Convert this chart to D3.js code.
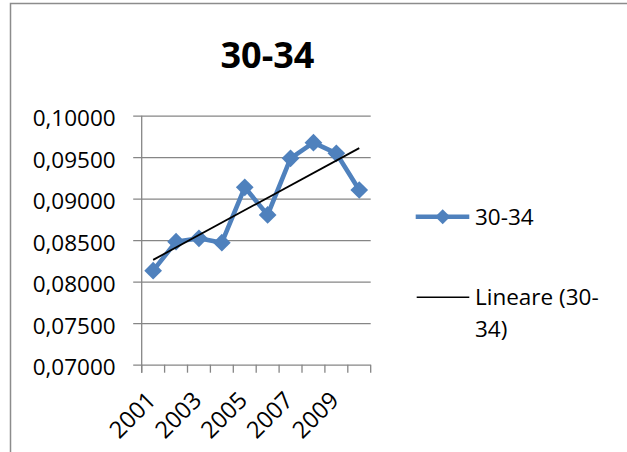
<!DOCTYPE html>
<html>
<head>
<meta charset="utf-8">
<script src="https://cdn.jsdelivr.net/npm/d3@7"></script>
<style>
  html, body { margin: 0; padding: 0; background: #fff; }
  svg { display: block; }
  text { font-family: "Open Sans", "Noto Sans", sans-serif; fill: #000; }
</style>
</head>
<body>
<svg id="chart" width="627" height="452"></svg>
<script>
// Age group 30-34, yearly values
const years = [2001, 2002, 2003, 2004, 2005, 2006, 2007, 2008, 2009, 2010];
const values = [0.08133, 0.08482, 0.08523, 0.08470, 0.09137, 0.08804, 0.09487, 0.09675, 0.09547, 0.09105];
const yTicks = [0.07, 0.075, 0.08, 0.085, 0.09, 0.095, 0.10];
const xLabelYears = [2001, 2003, 2005, 2007, 2009];
const seriesName = "30-34";
const trendName = "Lineare (30-34)";

const svg = d3.select("#chart");
const blue = "#4F81BD";
const gridColor = "#868686";

// Chart frame
svg.append("rect")
  .attr("x", 10.5).attr("y", 3.5)
  .attr("width", 640).attr("height", 460)
  .attr("fill", "#fff").attr("stroke", "#8c8c8c").attr("stroke-width", 1.5);

const plot = { left: 141.7, right: 370.7, top: 115.7, bottom: 364.7 };

const x = d3.scaleBand().domain(years).range([plot.left, plot.right]).padding(0);
const y = d3.scaleLinear().domain([0.07, 0.10]).range([plot.bottom, plot.top]);
const cx = d => x(d) + x.bandwidth() / 2;

const it = d3.formatLocale({ decimal: ",", thousands: ".", grouping: [3], currency: ["€", ""] });
const fmt = it.format(".5f");

// Horizontal gridlines with outside tick marks and labels
const yAxis = svg.append("g")
  .attr("transform", `translate(${plot.left},0)`)
  .call(d3.axisLeft(y).tickValues(yTicks).tickFormat(fmt)
    .tickSizeInner(-(plot.right - plot.left)).tickSizeOuter(0).tickPadding(0));
yAxis.select(".domain").remove();
yAxis.selectAll(".tick line")
  .attr("x1", -8.5)
  .attr("stroke", gridColor).attr("stroke-width", 1.3);
yAxis.selectAll(".tick text")
  .attr("x", -26).attr("dy", null).attr("y", 10)
  .style("font-size", "22.5px").style("font-family", "'Open Sans'");

// Vertical axis line
svg.append("line")
  .attr("x1", plot.left).attr("x2", plot.left)
  .attr("y1", plot.top).attr("y2", plot.bottom + 8)
  .attr("stroke", gridColor).attr("stroke-width", 1.3);

// Category tick marks on band boundaries
const bounds = years.map(d => x(d)).concat([plot.right]);
svg.append("g").selectAll("line").data(bounds).join("line")
  .attr("x1", d => d).attr("x2", d => d)
  .attr("y1", plot.bottom).attr("y2", plot.bottom + 8)
  .attr("stroke", gridColor).attr("stroke-width", 1.3);

// Category labels (every other year), rotated
const xAxis = svg.append("g")
  .attr("transform", `translate(0,${plot.bottom})`)
  .call(d3.axisBottom(x).tickValues(xLabelYears).tickSize(0).tickFormat(d3.format("d")));
xAxis.select(".domain").remove();
xAxis.selectAll(".tick text")
  .attr("y", null).attr("dy", null)
  .attr("text-anchor", "end")
  .attr("transform", "translate(4,37) rotate(-45)")
  .style("font-size", "23.5px").style("font-family", "'Open Sans'");

// Data line and markers
const line = d3.line().x((d, i) => cx(years[i])).y(d => y(d));
svg.append("path").datum(values)
  .attr("d", line)
  .attr("fill", "none").attr("stroke", blue)
  .attr("stroke-width", 4.6).attr("stroke-linejoin", "round");

const diamond = d3.symbol().type(d3.symbolDiamond2);
svg.append("g").selectAll("path").data(values).join("path")
  .attr("transform", (d, i) => `translate(${cx(years[i])},${y(d)})`)
  .attr("d", diamond.size(200)())
  .attr("fill", blue);

// Linear trend (least squares over category index)
const idx = years.map((d, i) => i + 1);
const mx = d3.mean(idx), my = d3.mean(values);
const slope = d3.sum(idx, (xi, i) => (xi - mx) * (values[i] - my)) / d3.sum(idx, xi => (xi - mx) ** 2);
const intercept = my - slope * mx;
const trend = [years[0], years[years.length - 1]].map((yr, k) => {
  const xi = k === 0 ? 1 : years.length;
  return [cx(yr), y(intercept + slope * xi)];
});
svg.append("line")
  .attr("x1", trend[0][0]).attr("y1", trend[0][1])
  .attr("x2", trend[1][0]).attr("y2", trend[1][1])
  .attr("stroke", "#000").attr("stroke-width", 1.8);

// Title
svg.append("text")
  .attr("x", 267.5).attr("y", 68)
  .attr("text-anchor", "middle")
  .style("font-size", "36px").style("font-weight", "bold")
  .text(seriesName);

// Legend
const lg = svg.append("g");
lg.append("line")
  .attr("x1", 415.7).attr("x2", 469.3).attr("y1", 216.7).attr("y2", 216.7)
  .attr("stroke", blue).attr("stroke-width", 4.6);
lg.append("path")
  .attr("transform", "translate(442.7,216.7)")
  .attr("d", diamond.size(145)())
  .attr("fill", blue);
lg.append("text").attr("x", 475).attr("y", 225)
  .style("font-size", "22.5px").text(seriesName);

lg.append("line")
  .attr("x1", 416.7).attr("x2", 469.3).attr("y1", 297.3).attr("y2", 297.3)
  .attr("stroke", "#000").attr("stroke-width", 1.5);
const trendLabel = lg.append("text").style("font-size", "22.5px");
trendLabel.append("tspan").attr("x", 475).attr("y", 305).text(trendName.slice(0, 12));
trendLabel.append("tspan").attr("x", 475).attr("y", 336.7).text(trendName.slice(12));
</script>
</body>
</html>
